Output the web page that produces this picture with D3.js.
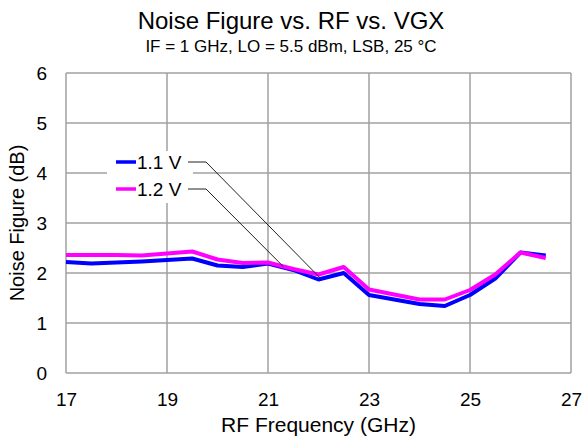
<!DOCTYPE html>
<html>
<head>
<meta charset="utf-8">
<script src="https://cdn.jsdelivr.net/npm/d3@7/dist/d3.min.js"></script>
<style>
  html, body { margin: 0; padding: 0; background: #fff; }
  svg { display: block; font-family: "Liberation Sans", Arial, sans-serif; }
</style>
</head>
<body>
<svg id="chart" width="582" height="442"></svg>
<script>
// RF frequency sweep (GHz)
const rfFreq = [17, 17.5, 18, 18.5, 19, 19.5, 20, 20.5, 21, 21.5, 22, 22.5, 23, 23.5, 24, 24.5, 25, 25.5, 26, 26.5];
// Noise figure (dB) per VGX setting
const nf11 = [2.22, 2.19, 2.21, 2.23, 2.26, 2.29, 2.15, 2.12, 2.19, 2.06, 1.87, 2.00, 1.56, 1.47, 1.38, 1.34, 1.56, 1.89, 2.41, 2.35];
const nf12 = [2.36, 2.36, 2.36, 2.35, 2.39, 2.43, 2.27, 2.20, 2.21, 2.08, 1.97, 2.12, 1.67, 1.57, 1.47, 1.47, 1.66, 1.97, 2.41, 2.30];
const seriesNames = ["1.1 V", "1.2 V"];
const seriesColors = ["#0000ff", "#ff00ff"];
const xTicks = [17, 19, 21, 23, 25, 27];
const yTicks = [0, 1, 2, 3, 4, 5, 6];
// where each legend leader line lands on its curve (GHz)
const leaderTargets = [22.05, 21.3];

const svg = d3.select("#chart");
const plotL = 66, plotR = 571, plotT = 73, plotB = 373;

const x = d3.scaleLinear().domain([17, 27]).range([plotL, plotR]);
const y = d3.scaleLinear().domain([0, 6]).range([plotB, plotT]);

// titles
svg.append("text").attr("x", 291).attr("y", 29).attr("text-anchor", "middle")
  .attr("font-size", 24).attr("fill", "#000").text("Noise Figure vs. RF vs. VGX");
svg.append("text").attr("x", 291).attr("y", 52).attr("text-anchor", "middle")
  .attr("font-size", 17).attr("fill", "#000").text("IF = 1 GHz, LO = 5.5 dBm, LSB, 25 °C");

// grid
const grid = svg.append("g").attr("stroke", "#a0a0a0").attr("stroke-width", 1.5);
grid.selectAll("line.v").data(xTicks).join("line").attr("class", "v")
  .attr("x1", d => x(d)).attr("x2", d => x(d)).attr("y1", plotT).attr("y2", plotB);
grid.selectAll("line.h").data(yTicks).join("line").attr("class", "h")
  .attr("x1", plotL).attr("x2", plotR).attr("y1", d => y(d)).attr("y2", d => y(d));

// axes (labels only, lines come from the grid)
const xAxis = svg.append("g").attr("transform", "translate(0,406)")
  .call(d3.axisBottom(x).tickValues(xTicks).tickSize(0).tickPadding(0).tickFormat(d3.format("d")));
const yAxis = svg.append("g").attr("transform", "translate(47,0)")
  .call(d3.axisLeft(y).tickValues(yTicks).tickSize(0).tickPadding(0).tickFormat(d3.format("d")));
[xAxis, yAxis].forEach(a => {
  a.select(".domain").remove();
  a.selectAll("text").attr("font-size", 19).attr("fill", "#000")
    .attr("font-family", "Liberation Sans, Arial, sans-serif");
});
xAxis.selectAll("text").attr("dy", "0");
yAxis.selectAll("text").attr("dy", "0.36em").attr("text-anchor", "end");

svg.append("text").attr("x", (plotL + plotR) / 2).attr("y", 432).attr("text-anchor", "middle")
  .attr("font-size", 21).attr("fill", "#000").text("RF Frequency (GHz)");
svg.append("text").attr("transform", `translate(24,${(plotT + plotB) / 2}) rotate(-90)`)
  .attr("text-anchor", "middle").attr("font-size", 20).attr("fill", "#000").text("Noise Figure (dB)");

// data lines
const line = d3.line().x(d => x(d[0])).y(d => y(d[1]));
const seriesData = [nf11, nf12].map(vals => rfFreq.map((f, i) => [f, vals[i]]));
svg.append("g").selectAll("path").data(seriesData).join("path")
  .attr("d", line).attr("fill", "none")
  .attr("stroke", (d, i) => seriesColors[i]).attr("stroke-width", 4)
  .attr("stroke-linejoin", "round");

// legend with leader lines
const lg = svg.append("g");
lg.append("rect").attr("x", 107).attr("y", 151).attr("width", 86).attr("height", 52).attr("fill", "#fff");
const rowY = [162, 189];
function interp(vals, f) {
  const i = d3.bisectRight(rfFreq, f) - 1;
  const t = (f - rfFreq[i]) / (rfFreq[i + 1] - rfFreq[i]);
  return vals[i] + t * (vals[i + 1] - vals[i]);
}
[nf11, nf12].forEach((vals, i) => {
  lg.append("line").attr("x1", 116).attr("x2", 136).attr("y1", rowY[i]).attr("y2", rowY[i])
    .attr("stroke", seriesColors[i]).attr("stroke-width", 3.5);
  lg.append("text").attr("x", 137).attr("y", rowY[i]).attr("dy", "0.36em")
    .attr("font-size", 19).attr("fill", "#000").text(seriesNames[i]);
  const tf = leaderTargets[i];
  lg.append("polyline")
    .attr("points", `188,${rowY[i]} 206,${rowY[i]} ${x(tf)},${y(interp(vals, tf))}`)
    .attr("fill", "none").attr("stroke", "#222").attr("stroke-width", 1);
});
</script>
</body>
</html>
